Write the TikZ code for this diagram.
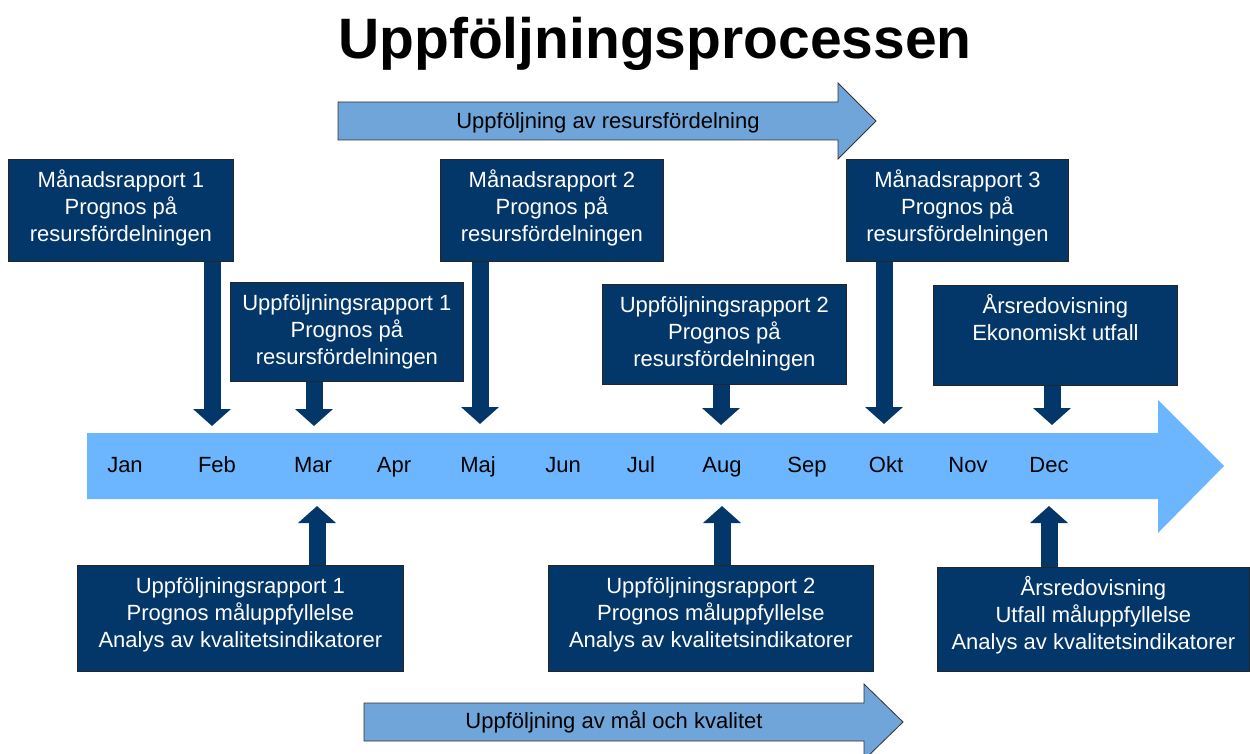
\documentclass[tikz,border=0pt]{standalone}
\usepackage{fontspec}
\setmainfont{Liberation Sans}
\usetikzlibrary{arrows.meta}
\definecolor{navy}{RGB}{4,55,105}
\definecolor{lineblue}{RGB}{108,182,255}
\definecolor{bandblue}{RGB}{111,165,216}
\tikzset{
  navybox/.style={draw=black!85, line width=0.8pt, fill=navy, inner sep=0pt, anchor=north west},
  boxtext/.style={text=white, align=center, font=\fontsize{22}{27}\selectfont, anchor=north, inner sep=0pt},
  month/.style={font=\fontsize{22}{26}\selectfont, anchor=base, inner sep=0pt},
  fat/.style={draw=navy, line width=17pt, -{Triangle[width=37pt,length=17pt]}},
  band/.style={fill=bandblue, draw=black!80, line width=0.8pt},
  bandtext/.style={font=\fontsize{22}{26}\selectfont, inner sep=0pt}
}
\begin{document}
\begin{tikzpicture}[x=1pt,y=-1pt]
\useasboundingbox (0,0) rectangle (1250,754);
\clip (0,0) rectangle (1250,754);

% title
\node[font=\bfseries\fontsize{57}{60}\selectfont, anchor=base] (title) at (655,59) {Uppföljningsprocessen};

% top band arrow
\draw[band] (338,102) -- (838,102) -- (838,83) -- (876,121) -- (838,159) -- (838,140) -- (338,140) -- cycle;
\node[bandtext] (bandtop) at (608,123) {Uppföljning av resursfördelning};

% bottom band arrow
\draw[band] (364,703) -- (864,703) -- (864,684) -- (903,722) -- (864,760) -- (864,741) -- (364,741) -- cycle;
\node[bandtext] (bandbot) at (614,722) {Uppföljning av mål och kvalitet};

% timeline
\fill[lineblue] (87,433) -- (1158,433) -- (1158,400) -- (1224,466) -- (1158,533) -- (1158,499) -- (87,499) -- cycle;
\node[month] (jan) at (125,472) {Jan};
\node[month] (feb) at (217,472) {Feb};
\node[month] (mar) at (313,472) {Mar};
\node[month] (apr) at (394,472) {Apr};
\node[month] (maj) at (478,472) {Maj};
\node[month] (jun) at (563,472) {Jun};
\node[month] (jul) at (641,472) {Jul};
\node[month] (aug) at (722,472) {Aug};
\node[month] (sep) at (807,472) {Sep};
\node[month] (okt) at (886,472) {Okt};
\node[month] (nov) at (968,472) {Nov};
\node[month] (dec) at (1049,472) {Dec};

% top boxes
\node[navybox, minimum width=225pt, minimum height=102pt] (m1) at (8,159) {};
\node[boxtext] (m1t) at ([yshift=-9.5pt]m1.north) {\vphantom{Å}Månadsrapport 1\\Prognos på\\resursfördelningen};
\node[navybox, minimum width=233pt, minimum height=99pt] (u1) at (230,282) {};
\node[boxtext] (u1t) at ([yshift=-9.5pt]u1.north) {\vphantom{Å}Uppföljningsrapport 1\\Prognos på\\resursfördelningen};
\node[navybox, minimum width=223pt, minimum height=102pt] (m2) at (440,159) {};
\node[boxtext] (m2t) at ([yshift=-9.5pt]m2.north) {\vphantom{Å}Månadsrapport 2\\Prognos på\\resursfördelningen};
\node[navybox, minimum width=244pt, minimum height=100pt] (u2) at (602,284) {};
\node[boxtext] (u2t) at ([yshift=-9.5pt]u2.north) {\vphantom{Å}Uppföljningsrapport 2\\Prognos på\\resursfördelningen};
\node[navybox, minimum width=222pt, minimum height=102pt] (m3) at (846,159) {};
\node[boxtext] (m3t) at ([yshift=-9.5pt]m3.north) {\vphantom{Å}Månadsrapport 3\\Prognos på\\resursfördelningen};
\node[navybox, minimum width=244pt, minimum height=100pt] (a1) at (933,285) {};
\node[boxtext] (a1t) at ([yshift=-9.5pt]a1.north) {\vphantom{Å}Årsredovisning\\Ekonomiskt utfall};

% bottom boxes
\node[navybox, minimum width=326pt, minimum height=106pt] (b1) at (77,565) {};
\node[boxtext] (b1t) at ([yshift=-9pt]b1.north) {\vphantom{Å}Uppföljningsrapport 1\\Prognos måluppfyllelse\\Analys av kvalitetsindikatorer};
\node[navybox, minimum width=325pt, minimum height=106pt] (b2) at (548,565) {};
\node[boxtext] (b2t) at ([yshift=-9pt]b2.north) {\vphantom{Å}Uppföljningsrapport 2\\Prognos måluppfyllelse\\Analys av kvalitetsindikatorer};
\node[navybox, minimum width=312pt, minimum height=104pt] (b3) at (937,567) {};
\node[boxtext] (b3t) at ([yshift=-9pt]b3.north) {\vphantom{Å}Årsredovisning\\Utfall måluppfyllelse\\Analys av kvalitetsindikatorer};

% down arrows
\coordinate (dm1) at (212,426);
\coordinate (du1) at (314,426);
\coordinate (dm2) at (480,424);
\coordinate (du2) at (721,425);
\coordinate (dm3) at (884,424);
\coordinate (da1) at (1052,425);
\draw[fat] (m1.south -| dm1) -- (dm1);
\draw[fat] (u1.south -| du1) -- (du1);
\draw[fat] (m2.south -| dm2) -- (dm2);
\draw[fat] (u2.south -| du2) -- (du2);
\draw[fat] (m3.south -| dm3) -- (dm3);
\draw[fat] (a1.south -| da1) -- (da1);

% up arrows
\coordinate (ub1) at (317,506);
\coordinate (ub2) at (722,506);
\coordinate (ub3) at (1049,506);
\draw[fat] (b1.north -| ub1) -- (ub1);
\draw[fat] (b2.north -| ub2) -- (ub2);
\draw[fat] (b3.north -| ub3) -- (ub3);
\end{tikzpicture}
\end{document}
